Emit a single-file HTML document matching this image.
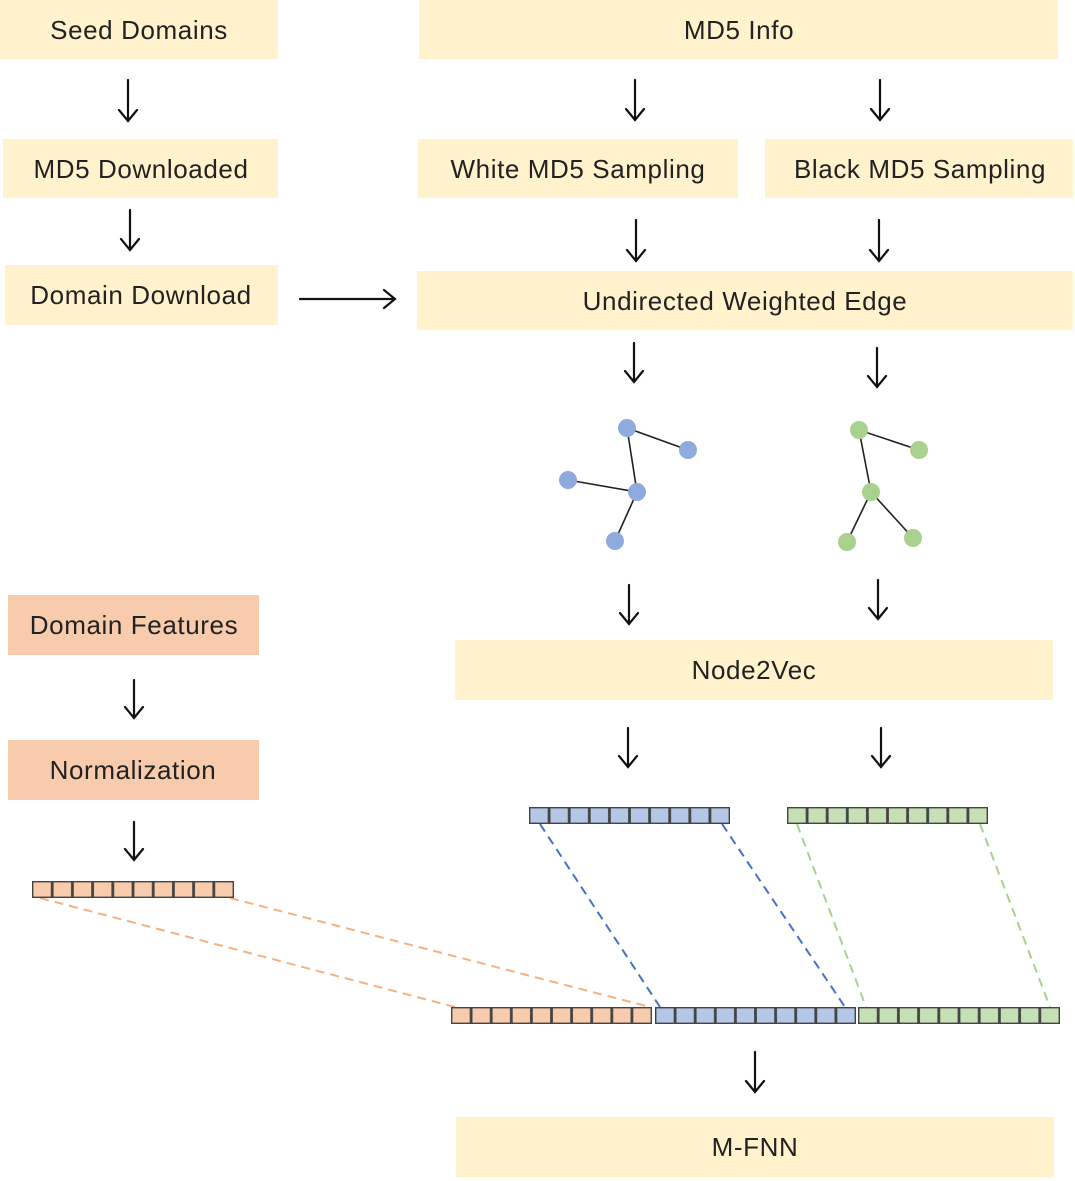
<!DOCTYPE html>
<html><head><meta charset="utf-8"><style>
html,body{margin:0;padding:0;background:#fff;}
svg{display:block;}
text{font-family:"Liberation Sans","DejaVu Sans",sans-serif;font-size:26px;fill:#222;text-anchor:middle;dominant-baseline:central;letter-spacing:0.6px;}
</style></head><body>
<svg width="1075" height="1181" viewBox="0 0 1075 1181" xmlns="http://www.w3.org/2000/svg">
<defs>
<pattern id="po" x="451" y="1007" width="20.1" height="17" patternUnits="userSpaceOnUse"><rect x="0.7" y="0.7" width="18.7" height="15.6" fill="#F8CBAD" stroke="#444" stroke-width="1.4"/></pattern>
<pattern id="pos" x="32" y="881" width="20.2" height="17" patternUnits="userSpaceOnUse"><rect x="0.7" y="0.7" width="18.8" height="15.6" fill="#F8CBAD" stroke="#444" stroke-width="1.4"/></pattern>
<pattern id="pb" x="529" y="807" width="20.1" height="17" patternUnits="userSpaceOnUse"><rect x="0.7" y="0.7" width="18.7" height="15.6" fill="#B4C7E7" stroke="#444" stroke-width="1.4"/></pattern>
<pattern id="pb2" x="655" y="1007" width="20.1" height="17" patternUnits="userSpaceOnUse"><rect x="0.7" y="0.7" width="18.7" height="15.6" fill="#B4C7E7" stroke="#444" stroke-width="1.4"/></pattern>
<pattern id="pg" x="787" y="807" width="20.1" height="17" patternUnits="userSpaceOnUse"><rect x="0.7" y="0.7" width="18.7" height="15.6" fill="#C5E0B4" stroke="#444" stroke-width="1.4"/></pattern>
<pattern id="pg2" x="858" y="1007" width="20.2" height="17" patternUnits="userSpaceOnUse"><rect x="0.7" y="0.7" width="18.8" height="15.6" fill="#C5E0B4" stroke="#444" stroke-width="1.4"/></pattern>
</defs>
<g fill="#FFF2CC">
<rect x="0" y="0" width="278" height="59"/>
<rect x="419" y="0" width="639" height="59"/>
<rect x="3" y="139" width="275" height="59"/>
<rect x="418" y="139" width="320" height="59"/>
<rect x="765" y="139" width="308" height="59"/>
<rect x="5" y="265" width="273" height="60"/>
<rect x="417" y="271" width="656" height="59"/>
<rect x="455" y="640" width="598" height="60"/>
<rect x="456" y="1117" width="598" height="60"/>
</g>
<g fill="#F8CBAD">
<rect x="8" y="595" width="251" height="60"/>
<rect x="8" y="740" width="251" height="60"/>
</g>
<text x="139" y="30">Seed Domains</text>
<text x="739" y="30">MD5 Info</text>
<text x="141" y="169">MD5 Downloaded</text>
<text x="578" y="169">White MD5 Sampling</text>
<text x="920" y="169">Black MD5 Sampling</text>
<text x="141" y="295">Domain Download</text>
<text x="745" y="301">Undirected Weighted Edge</text>
<text x="134" y="625">Domain Features</text>
<text x="133" y="770">Normalization</text>
<text x="754" y="670">Node2Vec</text>
<text x="755" y="1147">M-FNN</text>
<g stroke="#111" stroke-width="2.2" fill="none" stroke-linecap="round">
<path d="M128 80V121M119 110L128 121L137 110"/>
<path d="M130 210V250M121 239L130 250L139 239"/>
<path d="M635 80V120M626 109L635 120L644 109"/>
<path d="M880 80V120M871 109L880 120L889 109"/>
<path d="M636 220V261M627 250L636 261L645 250"/>
<path d="M879 220V261M870 250L879 261L888 250"/>
<path d="M634 343V382M625 371L634 382L643 371"/>
<path d="M877 348V387M868 376L877 387L886 376"/>
<path d="M629 585V624M620 613L629 624L638 613"/>
<path d="M878 580V619M869 608L878 619L887 608"/>
<path d="M134 680V718M125 707L134 718L143 707"/>
<path d="M628 728V767M619 756L628 767L637 756"/>
<path d="M881 728V767M872 756L881 767L890 756"/>
<path d="M134 822V860M125 849L134 860L143 849"/>
<path d="M755 1052V1092M746 1081L755 1092L764 1081"/>
<path d="M300 299H395M384 290L395 299L384 308"/>
</g>
<g stroke="#222" stroke-width="1.6">
<line x1="627" y1="428" x2="688" y2="450"/><line x1="627" y1="428" x2="637" y2="492"/>
<line x1="568" y1="480" x2="637" y2="492"/><line x1="637" y1="492" x2="615" y2="541"/>
<line x1="859" y1="430" x2="919" y2="450"/><line x1="859" y1="430" x2="871" y2="492"/>
<line x1="871" y1="492" x2="847" y2="542"/><line x1="871" y1="492" x2="913" y2="538"/>
</g>
<g fill="#8FAADC">
<circle cx="627" cy="428" r="9"/><circle cx="688" cy="450" r="9"/><circle cx="568" cy="480" r="9"/><circle cx="637" cy="492" r="9"/><circle cx="615" cy="541" r="9"/>
</g>
<g fill="#A9D18E">
<circle cx="859" cy="430" r="9"/><circle cx="919" cy="450" r="9"/><circle cx="871" cy="492" r="9"/><circle cx="847" cy="542" r="9"/><circle cx="913" cy="538" r="9"/>
</g>
<g stroke-width="2" stroke-dasharray="9,6" fill="none">
<line x1="40" y1="898" x2="455" y2="1007" stroke="#F4B183"/>
<line x1="230" y1="898" x2="650" y2="1007" stroke="#F4B183"/>
<line x1="540" y1="824" x2="660" y2="1007" stroke="#4472C4"/>
<line x1="722" y1="824" x2="845" y2="1007" stroke="#4472C4"/>
<line x1="797" y1="824" x2="866" y2="1007" stroke="#A9D18E"/>
<line x1="980" y1="824" x2="1050" y2="1007" stroke="#A9D18E"/>
</g>
<rect x="32" y="881" width="202" height="17" fill="url(#pos)"/>
<rect x="529" y="807" width="201" height="17" fill="url(#pb)"/>
<rect x="787" y="807" width="201" height="17" fill="url(#pg)"/>
<rect x="451" y="1007" width="201" height="17" fill="url(#po)"/>
<rect x="655" y="1007" width="201" height="17" fill="url(#pb2)"/>
<rect x="858" y="1007" width="202" height="17" fill="url(#pg2)"/>
</svg>
</body></html>
